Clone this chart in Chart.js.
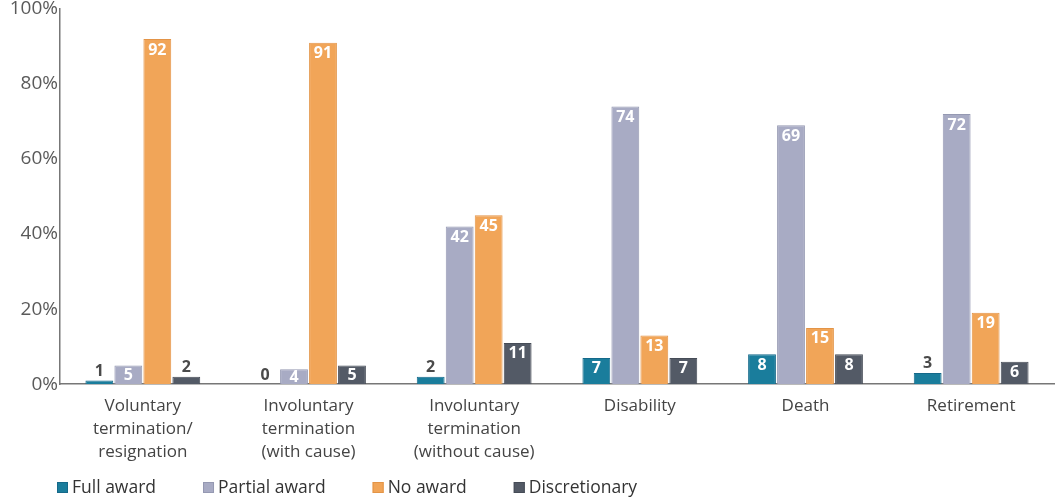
<!DOCTYPE html>
<html>
<head>
<meta charset="utf-8">
<script src="https://cdn.jsdelivr.net/npm/chart.js@4/dist/chart.umd.min.js"></script>
<style>
  html, body { margin: 0; padding: 0; background: #fff; }
  #wrap { width: 1058px; height: 499px; position: relative; }
</style>
</head>
<body>
<div id="wrap"><canvas id="c" width="1058" height="499"></canvas></div>
<script>
const categories = [
  ['Voluntary', 'termination/', 'resignation'],
  ['Involuntary', 'termination', '(with cause)'],
  ['Involuntary', 'termination', '(without cause)'],
  'Disability',
  'Death',
  'Retirement'
];
const fullAward     = [1, 0, 2, 7, 8, 3];
const partialAward  = [5, 4, 42, 74, 69, 72];
const noAward       = [92, 91, 45, 13, 15, 19];
const discretionary = [2, 5, 11, 7, 8, 6];
const yTicks = [0, 20, 40, 60, 80, 100];

const FONT = '"Open Sans", "DejaVu Sans", sans-serif';

// Value labels: white inside the bar top, dark above very short bars
const valueLabels = {
  id: 'valueLabels',
  afterDatasetsDraw(chart) {
    const ctx = chart.ctx;
    ctx.save();
    ctx.font = 'bold 16px ' + FONT;
    ctx.textAlign = 'center';
    chart.data.datasets.forEach((ds, i) => {
      const meta = chart.getDatasetMeta(i);
      meta.data.forEach((bar, j) => {
        const v = ds.data[j];
        const top = bar.y, base = bar.base;
        if (v >= 4) {
          ctx.fillStyle = '#ffffff';
          ctx.textBaseline = 'middle';
          const y = Math.min(top + 11, (top + base) / 2 + 1);
          ctx.fillText(String(v), bar.x, y);
        } else {
          ctx.fillStyle = '#4a4a4a';
          ctx.textBaseline = 'bottom';
          ctx.fillText(String(v), bar.x, top - 1);
        }
      });
    });
    ctx.restore();
  }
};

// Legend row along the bottom edge
const bottomLegend = {
  id: 'bottomLegend',
  afterDraw(chart) {
    const ctx = chart.ctx;
    ctx.save();
    ctx.font = '17.5px ' + FONT;
    ctx.textBaseline = 'middle';
    ctx.textAlign = 'left';
    let x = 57;
    const y = 488;
    chart.data.datasets.forEach(ds => {
      ctx.fillStyle = ds.backgroundColor;
      ctx.fillRect(x, y - 6, 11, 11);
      ctx.strokeStyle = ds.borderColor;
      ctx.lineWidth = 1;
      ctx.strokeRect(x + 0.5, y - 5.5, 10, 10);
      ctx.fillStyle = '#333333';
      ctx.fillText(ds.label, x + 15, y);
      x += 15 + ctx.measureText(ds.label).width + 47;
    });
    ctx.restore();
  }
};

const mk = (label, data, bg, border) => ({
  label, data,
  backgroundColor: bg,
  borderColor: border,
  borderWidth: 1,
  categoryPercentage: 0.7,
  barPercentage: 0.96
});

new Chart(document.getElementById('c'), {
  type: 'bar',
  data: {
    labels: categories,
    datasets: [
      mk('Full award', fullAward, '#1a7d9c', '#15698a'),
      mk('Partial award', partialAward, '#a8abc4', '#9599b2'),
      mk('No award', noAward, '#f1a558', '#e39447'),
      mk('Discretionary', discretionary, '#535a66', '#464c57')
    ]
  },
  options: {
    responsive: false,
    animation: false,
    layout: { padding: { top: 9, right: 4, bottom: 24, left: 0 } },
    plugins: {
      legend: { display: false },
      tooltip: { enabled: false }
    },
    scales: {
      x: {
        grid: { display: false, drawTicks: false },
        border: { display: true, color: '#777', width: 1.5 },
        ticks: {
          color: '#444',
          font: { family: FONT, size: 17, lineHeight: 1.35 },
          padding: 11,
          maxRotation: 0,
          autoSkip: false
        }
      },
      y: {
        min: 0, max: 100,
        afterBuildTicks(scale) { scale.ticks = yTicks.map(v => ({ value: v })); },
        afterFit(scale) { scale.width = 60; scale.paddingTop = 0; },
        grid: { display: false, drawTicks: false },
        border: { display: true, color: '#777', width: 1.5 },
        ticks: {
          color: '#5a5a5a',
          font: { family: FONT, size: 19 },
          padding: 2,
          callback: v => v + '%'
        }
      }
    }
  },
  plugins: [valueLabels, bottomLegend]
});
</script>
</body>
</html>
